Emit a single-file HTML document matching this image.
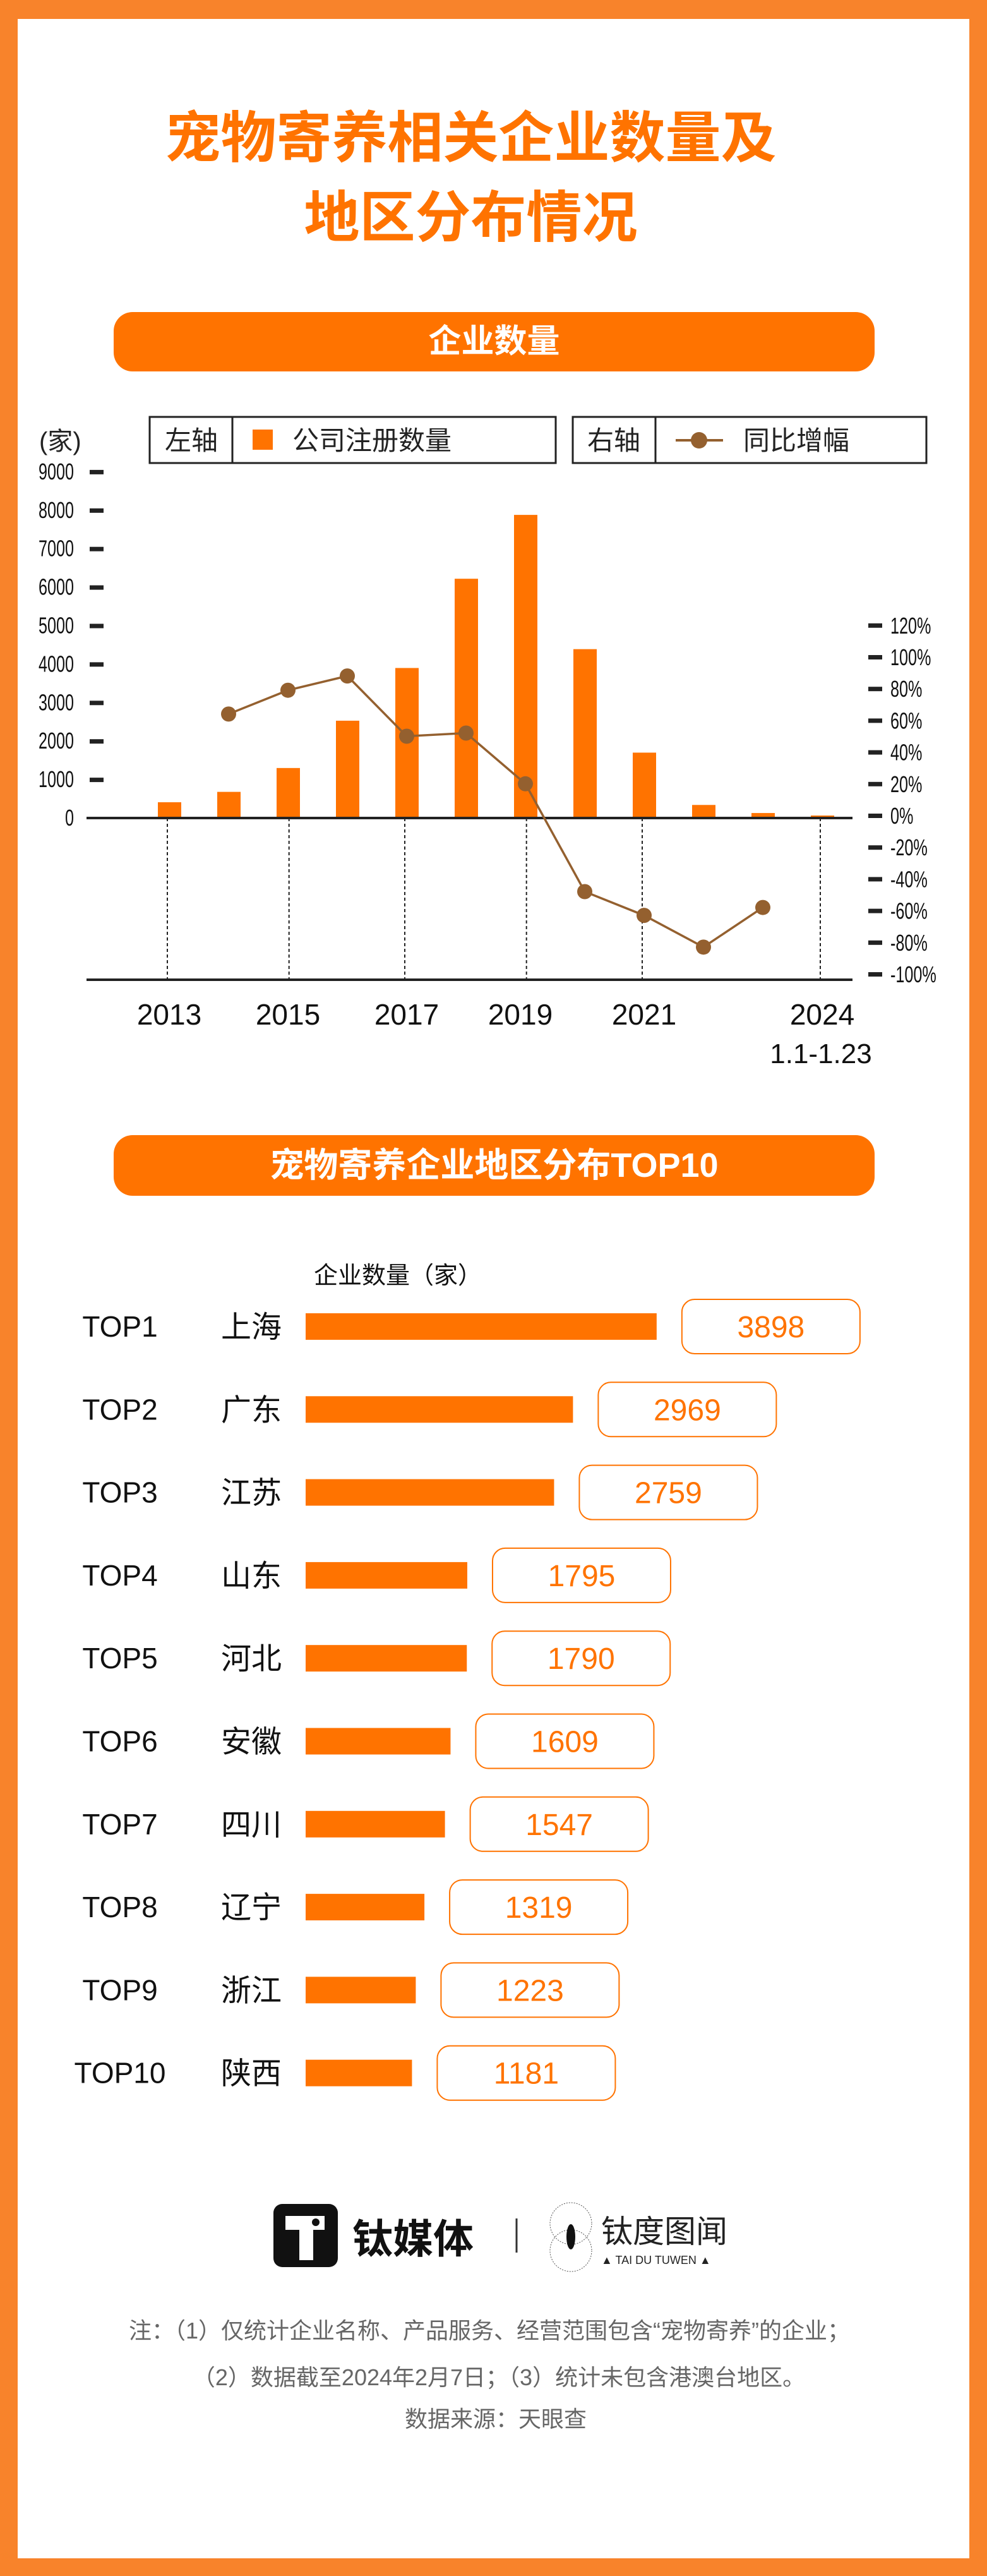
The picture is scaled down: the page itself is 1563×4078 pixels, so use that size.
<!DOCTYPE html>
<html><head><meta charset="utf-8">
<style>
html,body{margin:0;padding:0;}
body{width:1563px;height:4078px;position:relative;background:#fff;font-family:"Liberation Sans","Noto Sans CJK SC",sans-serif;overflow:hidden;}
.frame{position:absolute;left:0;top:0;width:1563px;height:4078px;box-sizing:border-box;border:solid #f8832b;border-width:30px 28px 28px 28px;}
.abs{position:absolute;}
.title{left:-36px;width:1563px;text-align:center;color:#ff7300;font-weight:bold;font-size:88px;line-height:100px;font-family:"Noto Sans CJK SC",sans-serif;}
.banner{left:180px;width:1205px;background:#ff7300;border-radius:30px;color:#fff;font-weight:bold;text-align:center;font-family:"Liberation Sans","Noto Sans CJK SC",sans-serif;}
svg text{font-family:"Liberation Sans","Noto Sans CJK SC",sans-serif;}
</style></head>
<body>
<div class="frame"></div>
<div class="abs title" style="top:162px">宠物寄养相关企业数量及</div>
<div class="abs title" style="top:288px">地区分布情况</div>

<div class="abs banner" style="top:494px;height:94px;line-height:94px;font-size:52px">企业数量</div>
<div class="abs banner" style="top:1797px;height:96px;line-height:96px;font-size:54px">宠物寄养企业地区分布TOP10</div>

<svg class="abs" style="left:0;top:0" width="1563" height="4078" id="chart">
  <g id="legend">
    <text x="62" y="712" font-size="40" fill="#222">(家)</text>
    <rect x="237" y="660" width="643" height="73" fill="none" stroke="#222" stroke-width="3"/>
    <line x1="368" y1="660" x2="368" y2="733" stroke="#222" stroke-width="3"/>
    <text x="303" y="712" font-size="42" text-anchor="middle" fill="#222">左轴</text>
    <rect x="400" y="680" width="32" height="32" fill="#ff7300"/>
    <text x="463" y="712" font-size="42" fill="#222">公司注册数量</text>
    <rect x="907" y="660" width="560" height="73" fill="none" stroke="#222" stroke-width="3"/>
    <line x1="1038" y1="660" x2="1038" y2="733" stroke="#222" stroke-width="3"/>
    <text x="972" y="712" font-size="42" text-anchor="middle" fill="#222">右轴</text>
    <line x1="1070" y1="697" x2="1145" y2="697" stroke="#94602f" stroke-width="4"/>
    <circle cx="1107" cy="697" r="13" fill="#94602f"/>
    <text x="1177" y="712" font-size="42" fill="#222">同比增幅</text>
  </g>
  <g id="bars"></g><g id="axes"></g><g id="line"></g><g id="rank"></g>
  <g>
    <rect x="433" y="3489" width="102" height="100" rx="14" fill="#111"/>
    <path d="M452 3508 h62 v22 h-18 v48 h-22 v-48 h-22z" fill="#fff"/>
    <circle cx="500" cy="3518" r="6" fill="#111"/>
    <text x="558" y="3567" font-size="64" font-weight="bold" fill="#111">钛媒体</text>
    <line x1="818" y1="3512" x2="818" y2="3566" stroke="#333" stroke-width="3"/>
    <circle cx="904" cy="3520" r="33" fill="none" stroke="#555" stroke-width="1" stroke-dasharray="2 2"/>
    <circle cx="904" cy="3563" r="33" fill="none" stroke="#555" stroke-width="1" stroke-dasharray="2 2"/>
    <ellipse cx="904" cy="3541" rx="7" ry="20" fill="#111"/>
    <text x="952" y="3550" font-size="50" fill="#222">钛度图闻</text>
    <text x="952" y="3584" font-size="18" fill="#222">▲ TAI DU TUWEN ▲</text>
  </g>
  <g fill="#666" font-size="36" text-anchor="middle">
    <text x="775" y="3702">注：（1）仅统计企业名称、产品服务、经营范围包含“宠物寄养”的企业；</text>
    <text x="790" y="3776">（2）数据截至2024年2月7日；（3）统计未包含港澳台地区。</text>
    <text x="785" y="3842">数据来源：天眼查</text>
  </g>
</svg>

<script>
const years = ['2013','2014','2015','2016','2017','2018','2019','2020','2021','2022','2023','2024'];
const counts = [410,680,1300,2530,3900,6220,7880,4390,1700,340,130,65];
const growth = [null,64,79,88,50,52,20,-48,-63,-83,-58,null];
const leftTicks = [0,1000,2000,3000,4000,5000,6000,7000,8000,9000];
const rightTicks = [120,100,80,60,40,20,0,-20,-40,-60,-80,-100];
const xLabels = ['2013','2015','2017','2019','2021','2024'];
const regions = ['上海','广东','江苏','山东','河北','安徽','四川','辽宁','浙江','陕西'];
const regionValues = [3898,2969,2759,1795,1790,1609,1547,1319,1223,1181];

const NS='http://www.w3.org/2000/svg';
function mk(tag, attrs, parent, txt){const e=document.createElementNS(NS,tag);for(const k in attrs)e.setAttribute(k,attrs[k]);if(txt!==undefined)e.textContent=txt;parent.appendChild(e);return e;}
const xC = i => 268 + i*94;
const yL = v => 1295 - v*0.0609;
const yR = p => 1291 - p*2.51;

const axes=document.getElementById('axes');
leftTicks.forEach(t=>{
  const lbl=mk('text',{x:117,y:yL(t)+12,'font-size':36,'text-anchor':'end',fill:'#111',transform:`translate(${117*0.3},0) scale(0.7,1)`},axes,String(t));
  
  
  if(t>0){const tk=mk('rect',{x:142,y:yL(t)-3,width:22,height:7,fill:'#222'},axes);
  
  }
});
rightTicks.forEach(p=>{
  const tk=mk('rect',{x:1375,y:yR(p)-3,width:22,height:7,fill:'#222'},axes);
  
  
  const lbl=mk('text',{x:1410,y:yR(p)+13,'font-size':36,fill:'#111',transform:`translate(${1410*0.3},0) scale(0.7,1)`},axes,p+'%');
  
  
});
[0.0,2.05,4.0,6.05,8.0,11.0].forEach(f=>{
  const d=mk('line',{x1:xC(f)-3,y1:yL(0),x2:xC(f)-3,y2:1551,stroke:'#222','stroke-width':2,'stroke-dasharray':'5 4'},axes);
  
  
});
const base=mk('line',{x1:137,y1:yL(0),x2:1350,y2:yL(0),stroke:'#222','stroke-width':4},axes);


const bot=mk('line',{x1:137,y1:1551,x2:1350,y2:1551,stroke:'#222','stroke-width':4},axes);


const xl=[0,2,4,6,8,11];
xLabels.forEach((l,k)=>{
  const t=mk('text',{x:xC(xl[k])-(k==3?8:0),y:1622,'font-size':46,'text-anchor':'middle',fill:'#111'},axes,l);
  
  
});
const sub=mk('text',{x:1300,y:1683,'font-size':44,'text-anchor':'middle',fill:'#111'},axes,'1.1-1.23');



const bars=document.getElementById('bars');
counts.forEach((v,i)=>{
  const b=mk('rect',{x:xC(i)-18,y:yL(v),width:37,height:yL(0)-yL(v),fill:'#ff7300'},bars);
  
  
});
const lineG=document.getElementById('line');
const pts=[];growth.forEach((g,i)=>{if(g!==null)pts.push([xC(i),yR(g)]);});
const pl=mk('polyline',{points:pts.map(p=>p.join(',')).join(' '),fill:'none',stroke:'#94602f','stroke-width':3.5},lineG);


growth.forEach((g,i)=>{if(g===null)return;
  const c=mk('circle',{cx:xC(i),cy:yR(g),r:12,fill:'#94602f'},lineG);
  
  
});

const rank=document.getElementById('rank');
const ut=mk('text',{x:497,y:2032,'font-size':38,fill:'#111'},rank,'企业数量（家）');


regions.forEach((r,i)=>{
  const cy=2100+i*131.3;
  const w=regionValues[i]*0.1426;
  const t1=mk('text',{x:190,y:cy+16,'font-size':46,'text-anchor':'middle',fill:'#111'},rank,'TOP'+(i+1));
  
  
  const t2=mk('text',{x:398,y:cy+17,'font-size':48,'text-anchor':'middle',fill:'#111'},rank,r);
  
  
  const b=mk('rect',{x:484,y:cy-21,width:w,height:42,fill:'#ff7300'},rank);
  
  
  const bx=mk('rect',{x:484+w+40,y:cy-43,width:282,height:86,rx:20,fill:'#fff',stroke:'#ff7300','stroke-width':2},rank);
  
  
  const vt=mk('text',{x:484+w+40+141,y:cy+17,'font-size':48,'text-anchor':'middle',fill:'#ff7300'},rank,String(regionValues[i]));
  
  
});
</script>
</body></html>
